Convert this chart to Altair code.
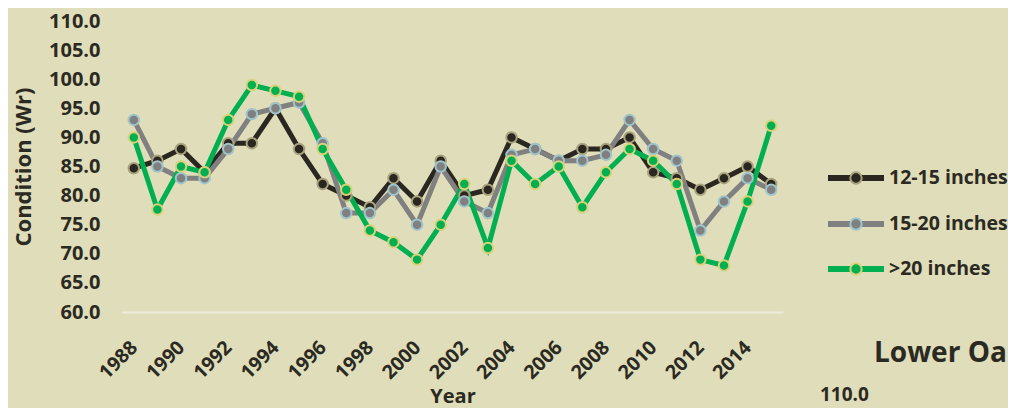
import altair as alt
import pandas as pd

years = list(range(1988, 2016))
series_names = ["12-15 inches", "15-20 inches", ">20 inches"]
s_12_15 = [84.7, 86, 88, 84, 89, 89, 95, 88, 82, 80, 78, 83, 79, 86, 80, 81, 90, 88, 86, 88, 88, 90, 84, 83, 81, 83, 85, 82]
s_15_20 = [93, 85, 83, 83, 88, 94, 95, 96, 89, 77, 77, 81, 75, 85, 79, 77, 87, 88, 86, 86, 87, 93, 88, 86, 74, 79, 83, 81]
s_over_20 = [90, 77.6, 85, 84, 93, 99, 98, 97, 88, 81, 74, 72, 69, 75, 82, 71, 86, 82, 85, 78, 84, 88, 86, 82, 69, 68, 79, 92]
year_ticks = list(range(1988, 2015, 2))
y_ticks = [60, 65, 70, 75, 80, 85, 90, 95, 100, 105, 110]
neighbour_title = ["Lower Oa"]
neighbour_tick = ["110.0"]

line_colors = ["#2A2620", "#808080", "#00B050"]
marker_edges = ["#A8A27D", "#9EC4CC", "#D9D27A"]

rows = []
for name, vals in zip(series_names, [s_12_15, s_15_20, s_over_20]):
    for y, v in zip(years, vals):
        rows.append({"year": y, "value": v, "series": name})
df = pd.DataFrame(rows)

FONT = "Open Sans"
TXT = "#2B2A22"

line_scale = alt.Scale(domain=series_names, range=line_colors)
edge_scale = alt.Scale(domain=series_names, range=marker_edges)

x_enc = alt.X(
    "year:O",
    scale=alt.Scale(type="point", padding=0.5),
    axis=alt.Axis(
        values=year_ticks, labelAngle=-45, labelAlign="right", labelBaseline="middle",
        labelPadding=32, labelOverlap=False, ticks=False, grid=False, domain=True,
        domainColor="#EEECDD", domainWidth=2, labelFontSize=19.5, labelFont=FONT,
        labelFontWeight="bold", labelColor=TXT, title="Year", titleFont=FONT,
        titleFontSize=20, titleFontWeight="bold", titleColor=TXT, titleY=90,
        titleBaseline="alphabetic",
    ),
)
y_enc = alt.Y(
    "value:Q",
    scale=alt.Scale(domain=[60, 110], nice=False, zero=False),
    axis=alt.Axis(
        values=y_ticks, format=".1f", ticks=False, grid=False, domain=False,
        labelOverlap=False, labelPadding=22, labelFontSize=20, labelFont=FONT,
        labelFontWeight="bold", labelColor=TXT, title="Condition (Wr)", titleFont=FONT,
        titleFontSize=22, titleFontWeight="bold", titleColor=TXT, titleAngle=270,
        titleX=-99, titleY=145.5, titleAlign="center", titleBaseline="middle",
    ),
)

base = alt.Chart(df)
lines = base.mark_line(strokeWidth=5).encode(
    x=x_enc, y=y_enc,
    color=alt.Color("series:N", scale=line_scale, legend=None),
    order=alt.Order("year:O"),
)
points = base.mark_circle(size=110, strokeWidth=2, opacity=1).encode(
    x=x_enc, y=y_enc,
    fill=alt.Fill("series:N", scale=line_scale, legend=None),
    stroke=alt.Stroke("series:N", scale=edge_scale, legend=None),
)

legend_df = pd.DataFrame({"series": series_names})
legend_rows = [157, 203, 248]
legend_layers = []
for name, ry in zip(series_names, legend_rows):
    lb = alt.Chart(legend_df).transform_filter(alt.datum.series == name)
    legend_layers.append(
        lb.mark_rule(strokeWidth=6).encode(
            x=alt.value(706), x2=alt.value(762), y=alt.value(ry),
            color=alt.Color("series:N", scale=line_scale, legend=None),
        )
    )
    legend_layers.append(
        lb.mark_circle(size=130, strokeWidth=2, opacity=1).encode(
            x=alt.value(734), y=alt.value(ry),
            fill=alt.Fill("series:N", scale=line_scale, legend=None),
            stroke=alt.Stroke("series:N", scale=edge_scale, legend=None),
        )
    )
    legend_layers.append(
        lb.mark_text(align="left", baseline="middle", font=FONT, fontSize=19.5,
                     fontWeight="bold", color=TXT).encode(
            x=alt.value(767), y=alt.value(ry), text="series:N",
        )
    )

extra1 = alt.Chart(pd.DataFrame({"t": neighbour_title})).mark_text(
    align="left", baseline="alphabetic", font=FONT, fontSize=28, fontWeight="bold", color=TXT
).encode(x=alt.value(752), y=alt.value(341), text="t:N")
extra2 = alt.Chart(pd.DataFrame({"t": neighbour_tick})).mark_text(
    align="left", baseline="alphabetic", font=FONT, fontSize=19, fontWeight="bold", color=TXT
).encode(x=alt.value(698), y=alt.value(380), text="t:N")

chart = alt.layer(lines, points, *legend_layers, extra1, extra2).resolve_scale(
    color="shared", fill="shared", stroke="shared"
).properties(
    width=661, height=291,
    autosize=alt.AutoSizeParams(type="none"),
    padding={"left": 114, "top": 13, "right": 225, "bottom": 96},
    background="#E0DDBA",
).configure_view(stroke=None)

chart.save("out.html", embed_options={"renderer": "svg", "actions": False})
